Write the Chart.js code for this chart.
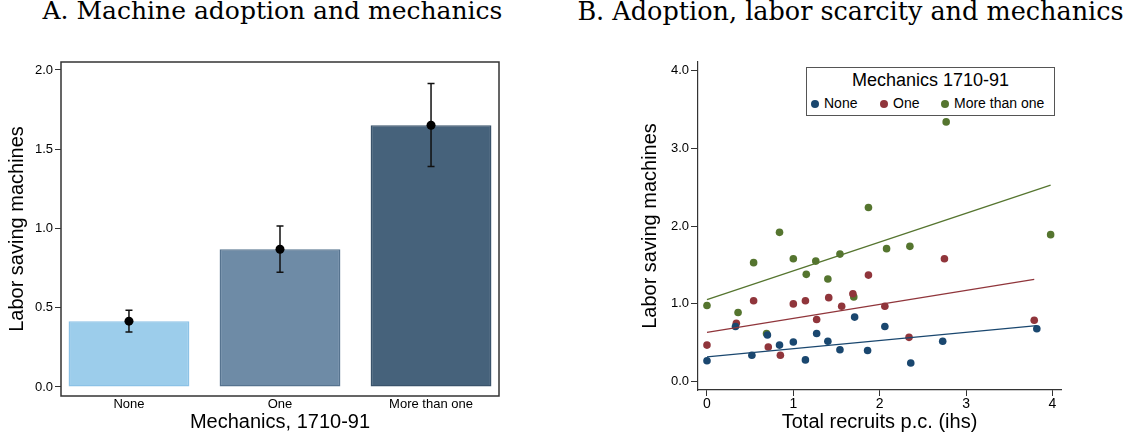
<!DOCTYPE html>
<html>
<head>
<meta charset="utf-8">
<script src="https://cdn.jsdelivr.net/npm/chart.js@4.4.0/dist/chart.umd.min.js"></script>
<style>
  body { margin: 0; background: #fff; width: 1137px; height: 439px; position: relative; overflow: hidden; }
  .panel { position: absolute; top: 0; }
  .ptitle { position: absolute; top: -4px; font-family: "DejaVu Serif", serif; font-size: 25px; color: #000; white-space: nowrap; text-align: center; }
  #legend { position: absolute; left: 806px; top: 67px; width: 249px; height: 49px; border: 1px solid #555; background: #fff; font-family: "Liberation Sans", Arial, sans-serif; color: #000; box-sizing: border-box; }
  #legend .lt { position: absolute; left: 0; width: 100%; top: 2px; text-align: center; font-size: 18px; }
  #legend .it { position: absolute; top: 27px; font-size: 14px; white-space: nowrap; }
  #legend .dot { display: inline-block; width: 8px; height: 8px; border-radius: 50%; margin-right: 5px; vertical-align: 0px; }
</style>
</head>
<body>
<div class="ptitle" style="left:0; width:545px;">A. Machine adoption and mechanics</div>
<div class="ptitle" style="left:562px; width:577px; font-size:25.5px;">B. Adoption, labor scarcity and mechanics</div>
<div class="panel" style="left:0;"><canvas id="barChart" width="560" height="439"></canvas></div>
<div class="panel" style="left:560px;"><canvas id="scatterChart" width="577" height="439"></canvas></div>
<div id="legend">
  <div class="lt">Mechanics 1710-91</div>
  <div class="it" style="left:4px;"><span class="dot" style="background:#1a476f"></span>None</div>
  <div class="it" style="left:73px;"><span class="dot" style="background:#90353b"></span>One</div>
  <div class="it" style="left:134px;"><span class="dot" style="background:#55752f"></span>More than one</div>
</div>
<script>
// PANEL A DATA
const barCats = ['None', 'One', 'More than one'];
const barMeans = [0.415, 0.869, 1.651];
const barLow = [0.347, 0.724, 1.39];
const barHigh = [0.484, 1.016, 1.914];
const barTicks = [0, 0.5, 1, 1.5, 2];

// PANEL B DATA
const noneX = [0, 0.33, 0.52, 0.70, 0.84, 1.00, 1.14, 1.27, 1.40, 1.54, 1.71, 1.86, 2.06, 2.36, 2.73, 3.82];
const noneY = [0.27, 0.71, 0.34, 0.60, 0.47, 0.51, 0.28, 0.62, 0.52, 0.41, 0.83, 0.40, 0.71, 0.24, 0.52, 0.68];
const oneX = [0, 0.34, 0.54, 0.71, 0.85, 1.00, 1.14, 1.27, 1.41, 1.56, 1.69, 1.87, 2.06, 2.34, 2.75, 3.79];
const oneY = [0.47, 0.75, 1.04, 0.445, 0.34, 1.00, 1.04, 0.80, 1.08, 0.97, 1.13, 1.37, 0.97, 0.57, 1.58, 0.79];
const moreX = [0, 0.36, 0.54, 0.69, 0.84, 1.00, 1.15, 1.26, 1.40, 1.54, 1.70, 1.87, 2.08, 2.35, 2.77, 3.98];
const moreY = [0.98, 0.89, 1.53, 0.62, 1.92, 1.58, 1.38, 1.55, 1.32, 1.64, 1.09, 2.24, 1.71, 1.74, 3.34, 1.89];
const fitNoneX = [0, 3.82], fitNoneY = [0.32, 0.72];
const fitOneX = [0, 3.79], fitOneY = [0.634, 1.315];
const fitMoreX = [0, 3.98], fitMoreY = [1.054, 2.527];
const scatTicksX = [0, 1, 2, 3, 4];
const scatTicksY = [0, 1, 2, 3, 4];

Chart.defaults.font.family = '"Liberation Sans", Arial, sans-serif';
Chart.defaults.color = '#000';

const pts = (xs, ys) => xs.map((x, i) => ({x: x, y: ys[i]}));

// box around plot area (panel A)
const frameBox = {
  id: 'frameBox',
  afterDraw(chart) {
    const a = chart.chartArea, ctx = chart.ctx;
    ctx.save();
    ctx.strokeStyle = '#333';
    ctx.lineWidth = 1.5;
    ctx.strokeRect(a.left, a.top, a.right - a.left, a.bottom - a.top);
    ctx.restore();
  }
};

// error bars drawn right after the bars
const errorBars = {
  id: 'errorBars',
  afterDatasetDraw(chart, args) {
    if (args.index !== 0) return;
    const xs = chart.scales.x, ys = chart.scales.y, ctx = chart.ctx;
    ctx.save();
    ctx.strokeStyle = '#111';
    ctx.lineWidth = 1.5;
    barCats.forEach((c, i) => {
      const px = xs.getPixelForValue(i);
      const lo = ys.getPixelForValue(barLow[i]);
      const hi = ys.getPixelForValue(barHigh[i]);
      ctx.beginPath();
      ctx.moveTo(px, lo); ctx.lineTo(px, hi);
      ctx.moveTo(px - 3.5, lo); ctx.lineTo(px + 3.5, lo);
      ctx.moveTo(px - 3.5, hi); ctx.lineTo(px + 3.5, hi);
      ctx.stroke();
    });
    ctx.restore();
  }
};

new Chart(document.getElementById('barChart'), {
  type: 'bar',
  data: {
    datasets: [{
      type: 'bar',
      order: 2,
      data: barMeans.map((v, i) => ({x: i, y: v})),
      backgroundColor: ['#9ccdeb', '#6e8ba6', '#46627b'],
      borderColor: ['#8cc2e6', '#56738f', '#3a536b'],
      borderWidth: 1.5,
      borderSkipped: false,
      categoryPercentage: 1,
      barPercentage: 0.8
    }, {
      type: 'scatter',
      order: 1,
      data: barMeans.map((v, i) => ({x: i, y: v})),
      backgroundColor: '#000',
      borderWidth: 0,
      pointRadius: 4.5
    }]
  },
  options: {
    responsive: false,
    animation: false,
    devicePixelRatio: 1,
    layout: { padding: { top: 62, right: 61, left: 0, bottom: 0 } },
    plugins: { legend: { display: false }, tooltip: { enabled: false } },
    scales: {
      x: {
        type: 'linear',
        offset: false,
        min: -0.45, max: 2.45,
        afterBuildTicks: s => { s.ticks = barCats.map((c, i) => ({value: i})); },
        afterFit: s => { s.height = 43; },
        grid: { display: false, drawTicks: false },
        border: { display: false },
        ticks: { font: { size: 13 }, padding: 1, callback: v => barCats[v] },
        title: { display: true, text: 'Mechanics, 1710-91', font: { size: 20 }, padding: { top: 0, bottom: 5 } }
      },
      y: {
        min: -0.057, max: 2.05,
        afterBuildTicks: s => { s.ticks = barTicks.map(v => ({value: v})); },
        afterFit: s => { s.width = 61; },
        grid: { drawOnChartArea: false, drawTicks: true, tickLength: 6, color: '#333' },
        border: { display: false },
        ticks: { font: { size: 13 }, padding: 2, callback: v => v.toFixed(1) },
        title: { display: true, text: 'Labor saving machines', font: { size: 20 }, padding: { top: 5, bottom: 0 } }
      }
    }
  },
  plugins: [frameBox, errorBars]
});

const dotSet = (label, xs, ys, col) => ({
  type: 'scatter', label: label, data: pts(xs, ys),
  backgroundColor: col, borderWidth: 0, pointRadius: 3.8, order: 2
});
const fitSet = (xs, ys, col) => ({
  type: 'line', data: pts(xs, ys), borderColor: col, borderWidth: 1.3,
  pointRadius: 0, fill: false, order: 1
});

new Chart(document.getElementById('scatterChart'), {
  type: 'scatter',
  data: {
    datasets: [
      dotSet('None', noneX, noneY, '#1a476f'),
      dotSet('One', oneX, oneY, '#90353b'),
      dotSet('More than one', moreX, moreY, '#55752f'),
      fitSet(fitNoneX, fitNoneY, '#1a476f'),
      fitSet(fitOneX, fitOneY, '#90353b'),
      fitSet(fitMoreX, fitMoreY, '#55752f')
    ]
  },
  options: {
    responsive: false,
    animation: false,
    devicePixelRatio: 1,
    layout: { padding: { top: 62, right: 76, left: 73, bottom: 0 } },
    plugins: { legend: { display: false }, tooltip: { enabled: false } },
    scales: {
      x: {
        type: 'linear',
        min: -0.104, max: 4.10,
        afterBuildTicks: s => { s.ticks = scatTicksX.map(v => ({value: v})); },
        afterFit: s => { s.height = 49; },
        grid: { drawOnChartArea: false, drawTicks: true, tickLength: 6, color: '#333' },
        border: { display: true, color: '#333', width: 1.2 },
        ticks: { font: { size: 14 }, padding: 0, callback: v => String(v) },
        title: { display: true, text: 'Total recruits p.c. (ihs)', font: { size: 20 }, padding: { top: 0, bottom: 5 } }
      },
      y: {
        type: 'linear',
        min: -0.107, max: 4.11,
        afterBuildTicks: s => { s.ticks = scatTicksY.map(v => ({value: v})); },
        afterFit: s => { s.width = 65; },
        grid: { drawOnChartArea: false, drawTicks: true, tickLength: 7, color: '#333' },
        border: { display: true, color: '#333', width: 1.2 },
        ticks: { font: { size: 13 }, padding: 2, callback: v => v.toFixed(1) },
        title: { display: true, text: 'Labor saving machines', font: { size: 20 }, padding: { top: 5, bottom: 0 } }
      }
    }
  }
});
</script>
</body>
</html>
